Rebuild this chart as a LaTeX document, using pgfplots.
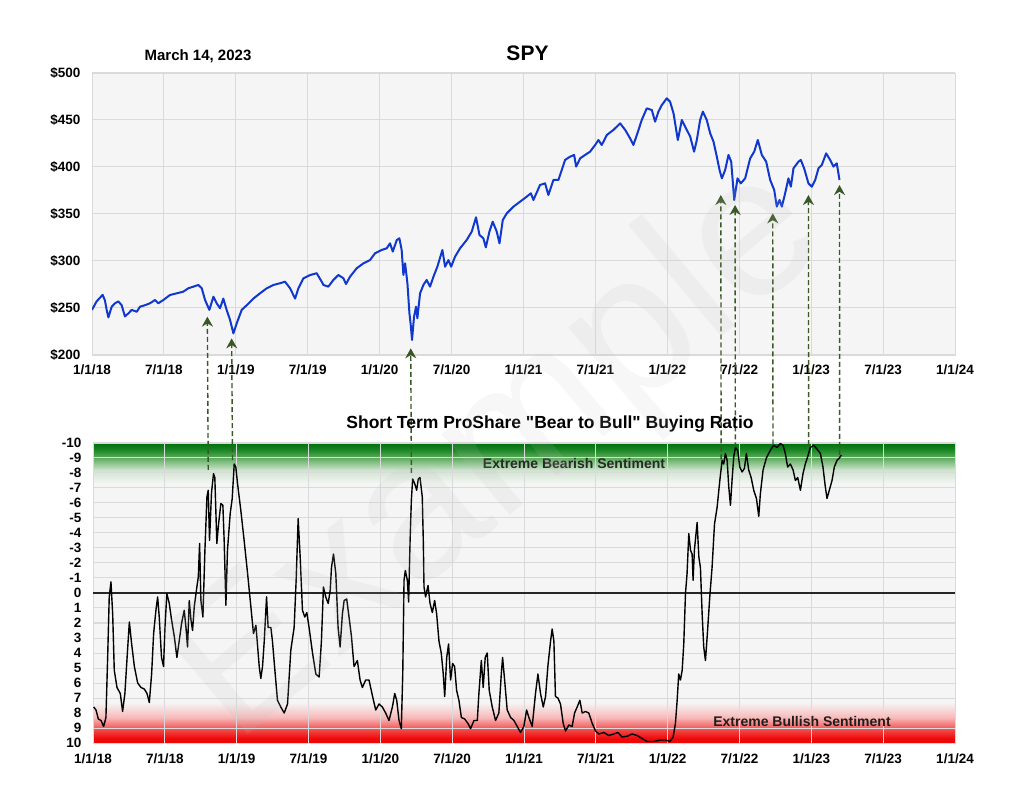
\documentclass[border=0pt]{standalone}
\usepackage{fontspec}
\setmainfont{Liberation Sans}
\newfontfamily\rawfont{Liberation Sans}
\usepackage{pgfplots}
\pgfplotsset{compat=1.18}
\usetikzlibrary{arrows.meta}
\definecolor{bgc}{RGB}{245,245,245}
\definecolor{gridc}{RGB}{218,218,218}
\definecolor{spyblue}{RGB}{16,56,205}
\definecolor{arrowg}{RGB}{58,88,38}
\definecolor{g1}{RGB}{0,112,12}
\definecolor{g2}{RGB}{22,132,32}
\definecolor{g3}{RGB}{95,172,95}
\definecolor{g4}{RGB}{205,228,205}
\definecolor{r1}{RGB}{238,8,8}
\definecolor{r2}{RGB}{242,62,62}
\definecolor{r3}{RGB}{248,185,185}
\pgfdeclareverticalshading{sentiment}{100bp}{color(0bp)=(r1); color(25bp)=(r1); color(25.75bp)=(r1); color(27bp)=(r2); color(29.25bp)=(r3); color(31.75bp)=(bgc); color(68.25bp)=(bgc); color(70.5bp)=(g4); color(72.5bp)=(g3); color(74bp)=(g2); color(75bp)=(g1); color(100bp)=(g1)}

\pgfplotstableread{
x y
2018.000 248
2018.032 257
2018.074 264
2018.090 258
2018.102 248
2018.114 240
2018.137 251.4
2018.160 255
2018.183 257
2018.206 253
2018.229 241
2018.253 244.3
2018.276 248
2018.311 246
2018.334 251.4
2018.369 253
2018.403 255
2018.438 258.5
2018.461 255
2018.496 258.5
2018.542 263.8
2018.589 265.6
2018.635 267.4
2018.670 271
2018.705 272.7
2018.739 274.5
2018.763 271
2018.786 258.5
2018.816 248
2018.844 262
2018.867 255
2018.890 249.7
2018.913 260
2018.936 248
2018.960 237.2
2018.983 223
2019.006 233.7
2019.041 248
2019.076 253
2019.122 260
2019.168 265.6
2019.215 271
2019.261 274.5
2019.307 276.3
2019.342 278
2019.377 271
2019.412 260
2019.435 271
2019.470 281.6
2019.516 285
2019.562 287
2019.597 278
2019.609 274.5
2019.643 272.7
2019.678 279.8
2019.713 285.1
2019.748 281.6
2019.766 275.5
2019.794 283.3
2019.840 292.2
2019.887 297.5
2019.933 301
2019.968 308.2
2020.014 311.7
2020.049 313.5
2020.072 318.8
2020.091 310
2020.119 322.3
2020.137 324.1
2020.153 311.7
2020.165 285.1
2020.177 297.5
2020.193 276.2
2020.207 244.3
2020.216 231.9
2020.225 216
2020.239 240.8
2020.253 251.4
2020.262 239
2020.281 265.6
2020.304 274.5
2020.327 279.8
2020.350 272.7
2020.374 283.3
2020.401 293.9
2020.436 311.7
2020.455 293.9
2020.478 301
2020.497 293.9
2020.524 304.6
2020.559 313.5
2020.605 322.3
2020.640 331.2
2020.670 346.5
2020.694 327.7
2020.721 324.1
2020.738 314.5
2020.763 331.2
2020.786 341.8
2020.814 331.2
2020.833 318.8
2020.856 343.6
2020.884 350.7
2020.930 357.8
2020.976 363.1
2021.022 368.4
2021.051 372
2021.069 364.9
2021.115 380.9
2021.150 382.6
2021.173 370.2
2021.208 386.2
2021.243 386.2
2021.289 407.5
2021.324 411
2021.352 412.8
2021.366 400.4
2021.394 409.2
2021.428 412.8
2021.463 416.3
2021.498 423.4
2021.521 428.7
2021.544 423.4
2021.579 434
2021.625 439.4
2021.672 446.4
2021.707 439.4
2021.741 430.5
2021.764 423.4
2021.792 435.8
2021.822 450
2021.857 462.4
2021.892 460.6
2021.915 448.2
2021.938 458.9
2021.962 466
2021.996 473
2022.019 469.5
2022.043 457.1
2022.073 428.7
2022.101 450
2022.124 442.9
2022.159 432.3
2022.186 416.3
2022.205 428.7
2022.228 450
2022.247 458.9
2022.274 450
2022.298 435.8
2022.321 426.9
2022.344 411
2022.363 396.8
2022.379 387.9
2022.402 396.8
2022.425 412.8
2022.444 405.7
2022.465 364.9
2022.488 387.9
2022.511 382.6
2022.541 387.9
2022.576 409.2
2022.604 416.3
2022.629 428.7
2022.657 412.8
2022.687 405.7
2022.715 386.2
2022.743 375.5
2022.761 357.8
2022.780 364.9
2022.796 357.8
2022.819 372
2022.842 387.9
2022.859 379
2022.877 398.6
2022.912 405.7
2022.928 407.5
2022.951 398.6
2022.981 382.6
2023.005 379
2023.028 386.2
2023.051 398.6
2023.074 402.1
2023.104 414.5
2023.132 407.5
2023.155 400.4
2023.178 403.9
2023.197 386.2
}\spydata

\pgfplotstableread{
x y
2018.005 7.6
2018.021 7.8
2018.037 8.4
2018.056 8.5
2018.074 8.9
2018.090 8.3
2018.102 4.3
2018.113 0.26
2018.125 -0.74
2018.137 1.4
2018.148 5.15
2018.167 6.3
2018.190 6.7
2018.206 7.9
2018.222 6.7
2018.236 4.5
2018.253 1.93
2018.269 3.4
2018.288 4.9
2018.311 6.0
2018.334 6.3
2018.357 6.4
2018.376 6.7
2018.392 7.3
2018.408 5.4
2018.422 2.7
2018.438 1.15
2018.450 0.26
2018.461 1.6
2018.477 4.3
2018.491 4.9
2018.501 2.3
2018.514 0.04
2018.531 0.7
2018.547 1.8
2018.566 2.9
2018.584 4.3
2018.600 3.2
2018.617 2.0
2018.635 1.15
2018.647 2.3
2018.658 3.6
2018.670 0.5
2018.682 1.8
2018.693 2.5
2018.705 0.9
2018.723 -0.4
2018.733 -1.07
2018.742 -3.3
2018.751 0.5
2018.765 1.6
2018.779 -2.85
2018.793 -6.4
2018.802 -6.85
2018.811 -3.5
2018.825 -6.7
2018.839 -7.96
2018.848 -7.7
2018.862 -3.3
2018.874 -4.6
2018.890 -5.96
2018.904 -5.85
2018.913 -3.5
2018.925 0.82
2018.936 -2.85
2018.955 -5.3
2018.969 -6.3
2018.983 -8.6
2018.994 -8.4
2019.006 -7.3
2019.029 -5.5
2019.052 -3.5
2019.076 -1.3
2019.099 0.93
2019.117 2.7
2019.134 2.15
2019.157 4.9
2019.168 5.7
2019.180 4.9
2019.192 3.2
2019.208 0.26
2019.219 2.3
2019.238 2.3
2019.249 3.2
2019.266 5.15
2019.284 7.15
2019.307 7.6
2019.331 8.0
2019.354 7.4
2019.377 3.8
2019.400 2.3
2019.414 -0.85
2019.428 -4.96
2019.442 -2.4
2019.458 1.15
2019.474 1.6
2019.488 1.3
2019.504 2.3
2019.528 4.0
2019.551 5.4
2019.574 5.6
2019.590 3.2
2019.604 -0.4
2019.620 0.26
2019.637 0.7
2019.651 -0.18
2019.660 -1.7
2019.674 -2.6
2019.690 -1.3
2019.706 2.3
2019.720 3.6
2019.736 1.4
2019.748 0.5
2019.766 0.4
2019.782 1.6
2019.799 2.9
2019.817 4.9
2019.840 4.5
2019.859 5.8
2019.875 6.3
2019.898 5.8
2019.921 5.8
2019.952 7.15
2019.968 7.8
2019.991 7.4
2020.014 7.6
2020.037 8.0
2020.060 8.5
2020.084 7.6
2020.100 6.7
2020.114 7.15
2020.130 8.5
2020.146 9.04
2020.156 5.4
2020.165 -0.85
2020.174 -1.5
2020.188 -0.85
2020.197 0.6
2020.207 -3.5
2020.216 -6.2
2020.225 -7.6
2020.239 -7.3
2020.253 -6.85
2020.264 -7.6
2020.276 -7.7
2020.292 -6.4
2020.299 -3.5
2020.304 -0.4
2020.315 0.26
2020.332 -0.5
2020.346 0.7
2020.362 1.3
2020.378 0.5
2020.392 1.4
2020.408 3.2
2020.424 4.0
2020.438 5.4
2020.448 6.9
2020.462 4.3
2020.475 3.4
2020.489 5.8
2020.503 4.7
2020.517 4.9
2020.531 6.5
2020.547 7.15
2020.564 8.3
2020.587 8.4
2020.610 8.7
2020.628 9.04
2020.652 8.5
2020.675 8.5
2020.686 6.7
2020.703 4.5
2020.716 6.3
2020.730 4.3
2020.744 4.0
2020.758 6.5
2020.779 7.6
2020.802 8.5
2020.825 8.0
2020.842 5.4
2020.851 4.3
2020.865 5.8
2020.883 7.8
2020.907 8.3
2020.930 8.5
2020.953 8.9
2020.976 9.3
2020.999 8.9
2021.018 7.8
2021.034 8.3
2021.057 8.9
2021.080 6.7
2021.097 5.4
2021.115 6.7
2021.134 7.6
2021.150 6.9
2021.166 4.9
2021.185 3.2
2021.196 2.4
2021.208 3.2
2021.219 6.9
2021.236 7.0
2021.254 7.4
2021.273 8.7
2021.289 9.2
2021.312 8.8
2021.335 8.9
2021.352 8.0
2021.370 7.6
2021.389 7.15
2021.405 8.0
2021.428 7.9
2021.451 8.0
2021.475 8.7
2021.498 9.2
2021.521 9.4
2021.556 9.3
2021.590 9.5
2021.625 9.4
2021.653 9.3
2021.683 9.6
2021.718 9.55
2021.753 9.4
2021.787 9.5
2021.822 9.7
2021.857 9.9
2021.903 9.9
2021.950 9.8
2021.985 9.8
2022.015 9.9
2022.038 9.6
2022.054 8.7
2022.066 7.15
2022.077 5.4
2022.089 5.8
2022.101 5.15
2022.112 3.4
2022.124 0.04
2022.135 -1.3
2022.147 -3.96
2022.159 -2.85
2022.170 -2.6
2022.177 -0.85
2022.186 -2.85
2022.205 -4.7
2022.217 -2.4
2022.228 -1.7
2022.240 1.4
2022.251 3.6
2022.263 4.5
2022.275 2.9
2022.293 0.26
2022.309 -1.7
2022.326 -4.6
2022.344 -5.7
2022.363 -7.5
2022.379 -8.85
2022.390 -8.6
2022.402 -9.3
2022.414 -8.85
2022.425 -7.1
2022.437 -5.85
2022.448 -7.5
2022.460 -9.1
2022.472 -9.7
2022.488 -9.5
2022.502 -8.4
2022.518 -8.07
2022.534 -8.3
2022.548 -9.3
2022.564 -8.2
2022.581 -7.7
2022.599 -6.85
2022.618 -6.3
2022.634 -5.1
2022.645 -6.6
2022.664 -8.2
2022.687 -9.0
2022.703 -9.3
2022.720 -9.6
2022.738 -9.85
2022.761 -9.7
2022.784 -9.96
2022.803 -9.85
2022.819 -9.3
2022.835 -8.4
2022.854 -8.6
2022.873 -8.2
2022.889 -7.5
2022.905 -7.7
2022.924 -6.85
2022.942 -7.96
2022.958 -8.6
2022.975 -9.1
2022.993 -9.7
2023.016 -9.85
2023.039 -9.6
2023.063 -9.3
2023.081 -8.4
2023.097 -7.1
2023.109 -6.3
2023.125 -6.85
2023.144 -7.5
2023.160 -8.4
2023.179 -8.85
2023.195 -9.0
2023.209 -9.2
}\ratiodata

\pgfplotsset{
  commonax/.style={
    scale only axis,
    xmin=2018, xmax=2024,
    scaled x ticks=false,
    axis line style={draw=gridc},
    grid=major,
    major grid style={draw=gridc, line width=1pt},
    major tick length=0pt,
    tick label style={font=\fontsize{13.5}{15}\selectfont\bfseries},
    xtick={2018,2018.5,2019,2019.5,2020,2020.5,2021,2021.5,2022,2022.5,2023,2023.5,2024},
    xticklabels={1/1/18,7/1/18,1/1/19,7/1/19,1/1/20,7/1/20,1/1/21,7/1/21,1/1/22,7/1/22,1/1/23,7/1/23,1/1/24},
    yticklabel style={xshift=-8pt},
  }
}

\begin{document}
\begin{tikzpicture}
\path[use as bounding box] (0pt,0pt) rectangle (1024pt,791pt);

% top panel
\begin{axis}[commonax,
  at={(92pt,436pt)}, anchor=south west,
  width=863pt, height=282pt,
  ymin=200, ymax=500,
  axis background/.style={fill=bgc},
  ytick={200,250,300,350,400,450,500},
  yticklabels={\$200,\$250,\$300,\$350,\$400,\$450,\$500},
  xticklabel style={yshift=-6pt},
]
\addplot[color=spyblue, line width=2pt, line join=round] table[x=x,y=y] {\spydata};
\coordinate (t1) at (axis cs:2018.802,240.8);
\coordinate (t2) at (axis cs:2018.971,217.7);
\coordinate (t3) at (axis cs:2020.216,207.1);
\coordinate (t4) at (axis cs:2022.372,370.2);
\coordinate (t5) at (axis cs:2022.471,359.6);
\coordinate (t6) at (axis cs:2022.733,350.7);
\coordinate (t7) at (axis cs:2022.981,370.2);
\coordinate (t8) at (axis cs:2023.197,380.8);
\end{axis}

% bottom panel
\begin{axis}[commonax,
  at={(93pt,48pt)}, anchor=south west,
  width=862pt, height=300pt,
  ymin=-10, ymax=10, y dir=reverse,
  axis background/.style={shade, shading=sentiment},
  ytick={-10,-9,-8,-7,-6,-5,-4,-3,-2,-1,0,1,2,3,4,5,6,7,8,9,10},
  yticklabels={-10,-9,-8,-7,-6,-5,-4,-3,-2,-1,0,1,2,3,4,5,6,7,8,9,10},
  xticklabel style={yshift=-7pt},
]
\addplot[color=black!85, line width=2pt] coordinates {(2018,0) (2024,0)};
\addplot[color=black, line width=1.4pt, line join=round] table[x=x,y=y] {\ratiodata};
\coordinate (b1) at (axis cs:2018.802,-8.2);
\coordinate (b2) at (axis cs:2018.971,-8.85);
\coordinate (b3) at (axis cs:2020.216,-8.0);
\coordinate (b4) at (axis cs:2022.372,-8.9);
\coordinate (b5) at (axis cs:2022.471,-9.7);
\coordinate (b6) at (axis cs:2022.733,-9.9);
\coordinate (b7) at (axis cs:2022.981,-9.85);
\coordinate (b8) at (axis cs:2023.197,-9.2);
\end{axis}

% arrows
\foreach \i in {1,...,8}{
  \draw[arrowg, line width=1.4pt, dash pattern=on 5pt off 3pt, -{Stealth[length=10pt,width=11pt]}] (b\i) -- (t\i);
}

% texts
\node[font=\fontsize{15}{17}\selectfont\bfseries] at (198pt,735pt) {March 14, 2023};
\node[font=\fontsize{21}{24}\selectfont\bfseries] at (527.5pt,738pt) {SPY};
\node[font={\rawfont\bfseries\fontsize{17.5}{20}\selectfont}] at (550pt,367pt) {Short Term ProShare "Bear to Bull" Buying Ratio};
\node[font=\fontsize{14}{16}\selectfont\bfseries, text={rgb,255:red,40;green,40;blue,40}] at (574pt,327.7pt) {Extreme Bearish Sentiment};
\node[font=\fontsize{14}{16}\selectfont\bfseries, text={rgb,255:red,30;green,30;blue,30}] at (802pt,69.3pt) {Extreme Bullish Sentiment};

% watermark
\node[rotate=40, font=\fontsize{200}{200}\selectfont, text={rgb,255:red,190;green,190;blue,190}, opacity=0.13] at (500pt,335pt) {Example};
\end{tikzpicture}
\end{document}
